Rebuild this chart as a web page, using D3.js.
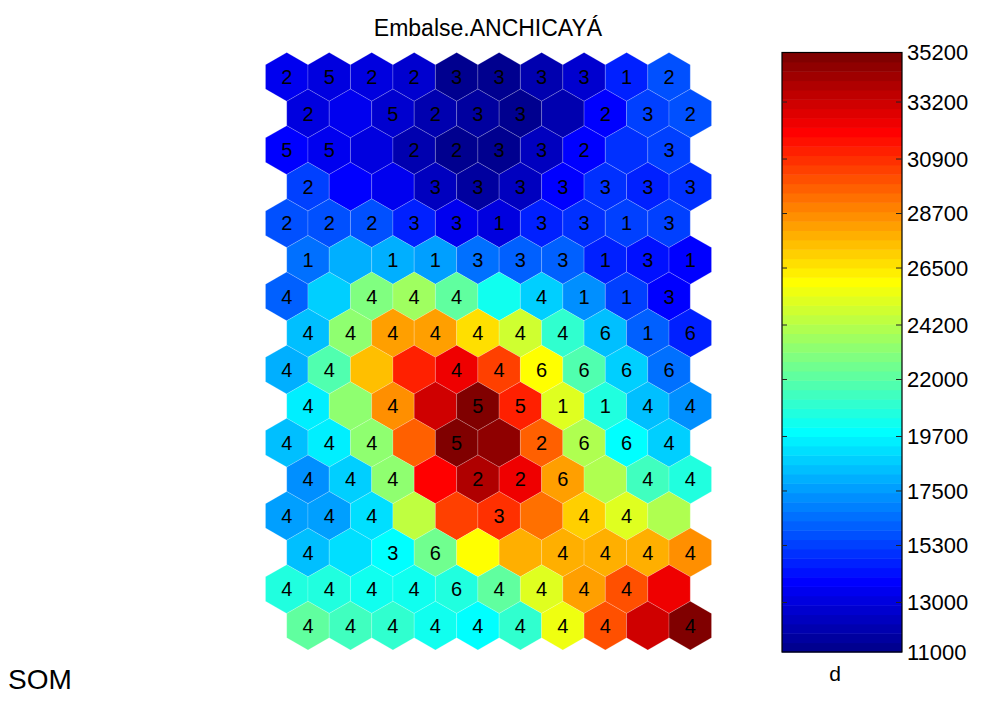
<!DOCTYPE html>
<html><head><meta charset="utf-8">
<script src="https://cdn.jsdelivr.net/npm/d3@7"></script>
<style>
body{margin:0;background:#fff}
svg{display:block}
text{font-family:"Liberation Sans",Arial,Helvetica,sans-serif;fill:#000}
</style>
</head><body>
<svg id="chart" width="985" height="707"></svg>
<script>
// ---------------- data ----------------
const chartTitle = "Embalse.ANCHICAYÁ";
const sideLabel = "SOM";
const colorbarLabel = "d";
const colorDomain = [11000, 35200];
const colorbarTicks = [11000, 13000, 15300, 17500, 19700, 22000, 24200, 26500, 28700, 30900, 33200, 35200];

// unit values (d), 16 rows x 10 columns, top row first
const unitValues = [
  [13500,13100,13100,12700,11200,11200,11900,12700,14600,15700],
  [13100,13500,12700,11900,11600,11200,11900,13800,15300,15700],
  [13800,13500,13100,11900,11200,11200,12300,13800,15000,15300],
  [15300,13800,13500,12300,11600,12300,13800,15000,14600,15000],
  [15700,15700,15700,14600,13500,13100,14600,15000,15300,15300],
  [16500,18000,18000,17600,16500,16100,16100,14600,14200,13800],
  [16100,18800,22900,23700,22200,20300,18800,17200,15300,13800],
  [18400,23300,28200,28200,26700,24800,21000,18400,16100,14600],
  [18000,21800,27400,31200,32400,30500,25900,21800,18800,16500],
  [19500,23300,28600,33100,35000,31200,25200,20600,18400,17200],
  [18400,19500,23300,29700,35000,34600,29700,24000,19900,18800],
  [17200,18800,23300,32000,33900,32400,28200,24000,21400,20600],
  [17600,17600,19100,24400,30500,30900,29300,27100,25200,24000],
  [18400,19100,19900,22500,25900,27800,27800,27800,27800,28600],
  [20600,20600,20300,20300,20600,22200,25200,28200,30100,32400],
  [22200,21400,21000,20300,19900,21000,25600,30100,33100,35000]
];

// hit labels per unit ("" = none)
const unitLabels = [
  ["2","5","2","2","3","3","3","3","1","2"],
  ["2","","5","2","3","3","","2","3","2"],
  ["5","5","","2","2","3","3","2","","3"],
  ["2","","","3","3","3","3","3","3","3"],
  ["2","2","2","3","3","1","3","3","1","3"],
  ["1","","1","1","3","3","3","1","3","1"],
  ["4","","4","4","4","","4","1","1","3"],
  ["4","4","4","4","4","4","4","6","1","6"],
  ["4","4","","","4","4","6","6","6","6"],
  ["4","","4","","5","5","1","1","4","4"],
  ["4","4","4","","5","","2","6","6","4"],
  ["4","4","4","","2","2","6","","4","4"],
  ["4","4","4","","","3","","4","4",""],
  ["4","","3","6","","","4","4","4","4"],
  ["4","4","4","4","6","4","4","4","4",""],
  ["4","4","4","4","4","4","4","4","","4"]
];

// ---------------- colormap (jet, 64 levels) ----------------
function jet(m) {
  const n = Math.ceil(m / 4);
  const u = [];
  for (let i = 1; i <= n; i++) u.push(i / n);
  for (let i = 1; i < n; i++) u.push(1);
  for (let i = n; i >= 1; i--) u.push(i / n);
  const off = Math.ceil(n / 2) - (m % 4 === 1 ? 1 : 0);
  const R = new Array(m).fill(0), G = new Array(m).fill(0), B = new Array(m).fill(0);
  u.forEach((val, k) => {
    const g = off + k + 1, r = g + n, b = g - n;
    if (g >= 1 && g <= m) G[g - 1] = val;
    if (r >= 1 && r <= m) R[r - 1] = val;
    if (b >= 1 && b <= m) B[b - 1] = val;
  });
  return R.map((_, i) => d3.rgb(R[i] * 255, G[i] * 255, B[i] * 255).formatHex());
}
const jetColors = jet(64);
const color = d3.scaleQuantize().domain(colorDomain).range(jetColors);

// ---------------- layout ----------------
const svg = d3.select("#chart");
const SQ = Math.sqrt(0.75);
const hexR = 1 / Math.sqrt(3);
const cells = [];
unitValues.forEach((row, r) => row.forEach((v, c) => {
  cells.push({r, c, v, label: unitLabels[r][c], cx: c + (r % 2 ? 0.5 : 0), cy: r * SQ});
}));

const x = d3.scaleLinear().domain([-0.5, 10]).range([265.5, 711.5]);
const y = d3.scaleLinear().domain([-hexR, 15 * SQ + hexR]).range([52.5, 650]);

const hexOffsets = [[0, -hexR], [0.5, -hexR / 2], [0.5, hexR / 2], [0, hexR], [-0.5, hexR / 2], [-0.5, -hexR / 2]];
const hexPath = d => "M" + hexOffsets.map(o => x(d.cx + o[0]).toFixed(2) + "," + y(d.cy + o[1]).toFixed(2)).join("L") + "Z";

const g = svg.append("g");
g.selectAll("path.hex").data(cells).join("path")
  .attr("class", "hex")
  .attr("d", hexPath)
  .attr("fill", d => color(d.v))
  .attr("stroke", "rgba(255,255,255,0.3)")
  .attr("stroke-width", 0.6);

g.selectAll("text.lab").data(cells.filter(d => d.label)).join("text")
  .attr("class", "lab")
  .attr("x", d => x(d.cx))
  .attr("y", d => y(d.cy))
  .attr("dy", "0.36em")
  .attr("text-anchor", "middle")
  .style("font-size", "20px")
  .text(d => d.label);

// title
svg.append("text")
  .attr("x", 488).attr("y", 36)
  .attr("text-anchor", "middle")
  .style("font-size", "23px")
  .text(chartTitle);

// side label
svg.append("text")
  .attr("x", 8).attr("y", 689)
  .style("font-size", "28px")
  .text(sideLabel);

// ---------------- colorbar ----------------
const cbX0 = 782, cbX1 = 902;
const cbY = d3.scaleLinear().domain(colorDomain).range([652, 52.5]);
const step = (colorDomain[1] - colorDomain[0]) / jetColors.length;
const bands = jetColors.map((col, k) => ({col, lo: colorDomain[0] + k * step, hi: colorDomain[0] + (k + 1) * step}));

const cb = svg.append("g");
cb.selectAll("rect.band").data(bands).join("rect")
  .attr("class", "band")
  .attr("x", cbX0).attr("width", cbX1 - cbX0)
  .attr("y", d => cbY(d.hi))
  .attr("height", d => cbY(d.lo) - cbY(d.hi) + 0.5)
  .attr("fill", d => d.col);

cb.append("rect")
  .attr("x", cbX0).attr("y", cbY(colorDomain[1]))
  .attr("width", cbX1 - cbX0).attr("height", cbY(colorDomain[0]) - cbY(colorDomain[1]))
  .attr("fill", "none").attr("stroke", "#000").attr("stroke-width", 1.2);

const inner = colorbarTicks.filter(t => t > colorDomain[0] && t < colorDomain[1]);
cb.selectAll("line.tl").data(inner).join("line")
  .attr("x1", cbX0).attr("x2", cbX0 + 5)
  .attr("y1", d => cbY(d)).attr("y2", d => cbY(d))
  .attr("stroke", "#222").attr("stroke-width", 1);
cb.selectAll("line.tr").data(inner).join("line")
  .attr("x1", cbX1).attr("x2", cbX1 - 6)
  .attr("y1", d => cbY(d)).attr("y2", d => cbY(d))
  .attr("stroke", "#222").attr("stroke-width", 1);

cb.selectAll("text.tick").data(colorbarTicks).join("text")
  .attr("class", "tick")
  .attr("x", 907)
  .attr("y", d => cbY(d))
  .attr("dy", "0.36em")
  .style("font-size", "22px")
  .text(d => String(d));

svg.append("text")
  .attr("x", 835).attr("y", 681)
  .attr("text-anchor", "middle")
  .style("font-size", "21px")
  .text(colorbarLabel);
</script>
</body></html>
